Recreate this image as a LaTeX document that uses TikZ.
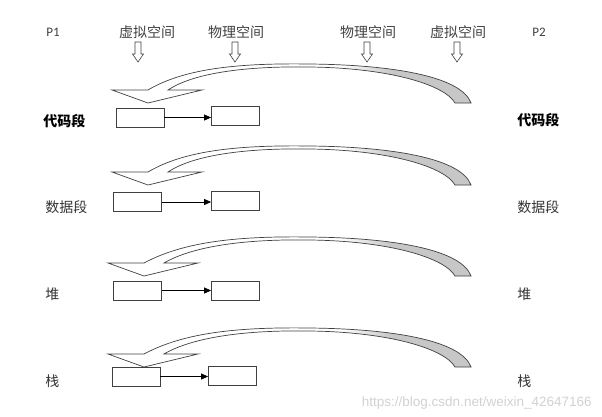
\documentclass[tikz,border=0pt]{standalone}
\usepackage{fontspec}
\setmainfont{Liberation Sans}
\newfontfamily\cjk{Noto Sans CJK SC}
\newfontfamily\latn{Carlito}
\usetikzlibrary{arrows.meta,positioning}

% white face on the left, grey underside on the right
\pgfdeclarehorizontalshading{ribbon}{100bp}{color(0bp)=(white); color(57bp)=(white); color(64bp)=(black!22); color(100bp)=(black!22)}

\begin{document}
\begin{tikzpicture}[x=1pt, y=-1pt, >={Triangle[length=7pt,width=6pt]}, line width=0.8pt,
    cell/.style={draw=black!75, fill=white, minimum width=48pt, minimum height=19pt, inner sep=0pt},
    seg/.style={font=\cjk\fontsize{14}{16}\selectfont, text=black!80, anchor=west, inner sep=0pt},
    hdr/.style={font=\cjk\fontsize{14}{16}\selectfont, text=black!75, inner sep=0pt},
    proc/.style={font=\latn\fontsize{13}{15}\selectfont, text=black!75, inner sep=0pt}]
    \useasboundingbox (0,0) rectangle (602,416);

    % header
    \node[proc] (P1) at (53,32) {P1};
    \node[hdr] (va) at (147,32) {虚拟空间};
    \node[hdr] (pa) at (236,32) {物理空间};
    \node[hdr] (pb) at (368,32) {物理空间};
    \node[hdr] (vb) at (458,32) {虚拟空间};
    \node[proc] (P2) at (539,32) {P2};

    % hollow down arrows under the header
    \foreach \X in {138,235,367,457} {
      \draw[black!75, line width=0.6pt, fill=white]
        (\X-3,42) -- (\X+3,42) -- (\X+3,54) -- (\X+5.5,54) -- (\X,62)
        -- (\X-5.5,54) -- (\X-3,54) -- cycle;
    }

    % curved block arrows, \b = y of the head base
    \foreach \b/\s in {90/0,172/0,263/-4,354/-4} {
      \shadedraw[draw=black!75, line width=0.7pt, shading=ribbon]
        (112+\s,\b) -- (148+\s,\b)
        .. controls (185,\b-22) and (240,\b-27) .. (310,\b-26)
        .. controls (400,\b-25) and (462,\b-12) .. (471,\b+13)
        -- (455,\b+13)
        .. controls (445,\b-5) and (390,\b-22) .. (310,\b-23)
        .. controls (250,\b-24) and (195,\b-18) .. (168+\s,\b)
        -- (202+\s,\b) -- (148+\s,\b+13) -- cycle;
    }

    % segments, left (P1) and right (P2)
    \node[seg, font=\cjk\bfseries\fontsize{14}{16}\selectfont, text=black] (codeL) at (43,121) {代码段};
    \node[seg] (dataL) at (45,207) {数据段};
    \node[seg] (heapL) at (45,294) {堆};
    \node[seg] (stackL) at (45,381) {栈};
    \node[seg, font=\cjk\bfseries\fontsize{14}{16}\selectfont, text=black] (codeR) at (517,120) {代码段};
    \node[seg] (dataR) at (517,207) {数据段};
    \node[seg] (heapR) at (517,294) {堆};
    \node[seg] (stackR) at (517,381) {栈};

    % virtual -> physical boxes
    \node[cell] (v1) at (140,117.5) {};
    \node[cell] (p1) at (235.5,115.5) {};
    \node[cell] (v2) at (137.5,202) {};
    \node[cell] (p2) at (235.5,200.5) {};
    \node[cell] (v3) at (137.5,290.5) {};
    \node[cell] (p3) at (235.5,290.5) {};
    \node[cell] (v4) at (136,376.5) {};
    \node[cell] (p4) at (232.5,375.5) {};

    \foreach \i in {1,2,3,4} {
      \draw[->, line width=0.7pt] (v\i.east) -- (v\i.east -| p\i.west);
    }

    \node[anchor=east, text=black!18, inner sep=0pt, font=\fontsize{13.5}{15}\selectfont] (mark) at (592,403) {https://blog.csdn.net/weixin\_42647166};
  \end{tikzpicture}
\end{document}
